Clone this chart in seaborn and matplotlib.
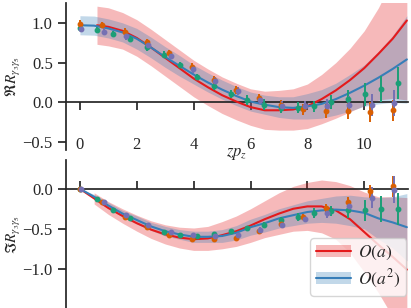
import matplotlib
matplotlib.use('Agg')
import matplotlib.pyplot as plt
import seaborn as sns
from matplotlib.patches import Patch
from matplotlib.lines import Line2D

# lattice points, x = z * p_z
x_a = [0.0, 0.785, 1.571, 2.356, 3.142, 3.927, 4.712, 5.498, 6.283, 7.069,
       7.854, 8.639, 9.425, 10.210, 10.996]
x_b = [0.0, 0.589, 1.178, 1.767, 2.356, 2.945, 3.534, 4.123, 4.712, 5.301,
       5.890, 6.480, 7.069, 7.658, 8.247, 8.836, 9.425, 10.014, 10.603, 11.192]

# real part
re_orange = [0.99, 0.97, 0.89, 0.76, 0.62, 0.45, 0.28, 0.16, 0.06, -0.03,
             -0.09, -0.11, -0.11, -0.12, -0.10]
re_orange_err = [0.04, 0.04, 0.04, 0.04, 0.04, 0.05, 0.05, 0.05, 0.05, 0.06,
                 0.07, 0.09, 0.10, 0.13, 0.13]
re_purple = [0.92, 0.89, 0.83, 0.72, 0.58, 0.42, 0.27, 0.14, 0.03, -0.04,
             -0.05, -0.05, -0.03, -0.03, -0.01]
re_purple_err = [0.04, 0.04, 0.04, 0.04, 0.04, 0.05, 0.05, 0.05, 0.05, 0.06,
                 0.07, 0.09, 0.11, 0.14, 0.16]
re_green = [0.94, 0.91, 0.86, 0.80, 0.69, 0.60, 0.47, 0.32, 0.20, 0.11,
            0.03, -0.03, -0.07, -0.07, -0.05, 0.00, 0.04, 0.10, 0.17, 0.24]
re_green_err = [0.04, 0.04, 0.04, 0.04, 0.04, 0.04, 0.04, 0.04, 0.05, 0.05,
                0.06, 0.07, 0.07, 0.07, 0.07, 0.09, 0.12, 0.14, 0.16, 0.20]

# imaginary part
im_orange = [0.0, -0.17, -0.35, -0.48, -0.58, -0.63, -0.63, -0.62, -0.53, -0.44,
             -0.35, -0.24, -0.16, -0.03, 0.03]
im_orange_err = [0.01, 0.02, 0.02, 0.02, 0.02, 0.02, 0.02, 0.03, 0.03, 0.03,
                 0.04, 0.05, 0.06, 0.08, 0.13]
im_purple = [0.0, -0.16, -0.33, -0.45, -0.54, -0.58, -0.59, -0.58, -0.51, -0.45,
             -0.38, -0.30, -0.22, -0.11, -0.01]
im_purple_err = [0.01, 0.02, 0.02, 0.02, 0.02, 0.02, 0.02, 0.03, 0.03, 0.04,
                 0.04, 0.06, 0.07, 0.13, 0.17]
im_green = [0.0, -0.13, -0.26, -0.37, -0.47, -0.54, -0.58, -0.59, -0.57, -0.53,
            -0.49, -0.45, -0.39, -0.35, -0.30, -0.28, -0.27, -0.27, -0.25, -0.25]
im_green_err = [0.01, 0.02, 0.02, 0.02, 0.02, 0.02, 0.03, 0.03, 0.03, 0.03,
                0.03, 0.03, 0.04, 0.05, 0.06, 0.06, 0.10, 0.13, 0.16, 0.20]

# fit curves
x_fit = [0.0, 0.5, 1.0, 1.5, 2.0, 2.5, 3.0, 3.5, 4.0, 4.5, 5.0, 5.5,
         6.0, 6.5, 7.0, 7.5, 8.0, 8.5, 9.0, 9.5, 10.0, 10.5, 11.0, 11.5]
x_fit_red = [0.6, 1.0, 1.5, 2.0, 2.5, 3.0, 3.5, 4.0, 4.5, 5.0, 5.5,
             6.0, 6.5, 7.0, 7.5, 8.0, 8.5, 9.0, 9.5, 10.0, 10.5, 11.0, 11.5]

re_blue = [0.97, 0.965, 0.93, 0.88, 0.80, 0.69, 0.57, 0.46, 0.35, 0.25, 0.16, 0.08,
           0.01, -0.03, -0.06, -0.07, -0.05, -0.02, 0.04, 0.12, 0.21, 0.31, 0.42, 0.54]
re_blue_err = [0.12, 0.12, 0.12, 0.12, 0.13, 0.13, 0.13, 0.13, 0.12, 0.12, 0.12, 0.12,
               0.12, 0.12, 0.13, 0.14, 0.16, 0.18, 0.20, 0.23, 0.26, 0.33, 0.42, 0.55]
re_red = [0.97, 0.95, 0.90, 0.81, 0.69, 0.56, 0.43, 0.30, 0.19, 0.09, 0.01,
          -0.06, -0.10, -0.10, -0.09, -0.05, 0.04, 0.15, 0.28, 0.43, 0.61, 0.80, 1.03]
re_red_err = [0.24, 0.24, 0.23, 0.23, 0.23, 0.23, 0.23, 0.23, 0.23, 0.23, 0.23,
              0.23, 0.24, 0.25, 0.26, 0.28, 0.31, 0.35, 0.40, 0.47, 0.58, 0.75, 1.00]

im_blue = [0.0, -0.10, -0.21, -0.31, -0.39, -0.47, -0.53, -0.57, -0.60, -0.60, -0.59, -0.55,
           -0.48, -0.43, -0.37, -0.33, -0.29, -0.27, -0.26, -0.27, -0.30, -0.37, -0.42, -0.48]
im_blue_err = [0.0, 0.03, 0.04, 0.04, 0.05, 0.05, 0.06, 0.06, 0.07, 0.07, 0.08, 0.09,
               0.10, 0.11, 0.12, 0.13, 0.14, 0.15, 0.17, 0.19, 0.20, 0.26, 0.32, 0.42]
im_red = [0.0, -0.12, -0.24, -0.34, -0.43, -0.51, -0.57, -0.61, -0.63, -0.62, -0.58, -0.53,
          -0.46, -0.38, -0.31, -0.25, -0.22, -0.22, -0.27, -0.38, -0.54, -0.70, -0.85, -1.01]
im_red_err = [0.0, 0.07, 0.08, 0.09, 0.10, 0.11, 0.12, 0.13, 0.14, 0.15, 0.17, 0.19,
              0.21, 0.23, 0.26, 0.28, 0.30, 0.33, 0.36, 0.42, 0.50, 0.60, 0.75, 0.90]

RED = '#e41a1c'
BLUE = '#377eb8'
GREEN, ORANGE, PURPLE = sns.color_palette('Dark2', 3)

sns.set_theme(style='ticks')
plt.rcParams['font.family'] = ['Liberation Serif', 'DejaVu Serif']
plt.rcParams['mathtext.fontset'] = 'stix'
plt.rcParams['axes.unicode_minus'] = True

fig = plt.figure(figsize=(4.11, 3.08), dpi=100)
ax1 = fig.add_axes([66 / 411, 1 - 150 / 308, 342 / 411, 147 / 308])
ax2 = fig.add_axes([66 / 411, 0.0, 342 / 411, 148 / 308])


def band(ax, x, y, err, color, start=0):
    lo = [v - e for v, e in zip(y, err)][start:]
    hi = [v + e for v, e in zip(y, err)][start:]
    ax.fill_between(x[start:], lo, hi, color=color, alpha=0.3, lw=0, zorder=1)


def points(ax, x, y, err, color, shift=0.0):
    xs = [v + shift for v in x]
    ax.errorbar(xs, y, yerr=err, fmt='o', ms=3.2, color=color, elinewidth=1.4,
                capsize=0, zorder=4)


# real part
band(ax1, x_fit_red, re_red, re_red_err, RED)
band(ax1, x_fit, re_blue, re_blue_err, BLUE)
sns.lineplot(x=x_fit_red, y=re_red, color=RED, lw=1.5, ax=ax1, zorder=3)
sns.lineplot(x=x_fit, y=re_blue, color=BLUE, lw=1.5, ax=ax1, zorder=3)
points(ax1, x_b, re_green, re_green_err, GREEN)
points(ax1, x_a, re_orange, re_orange_err, ORANGE)
points(ax1, x_a, re_purple, re_purple_err, PURPLE, shift=0.05)

# imaginary part
band(ax2, x_fit, im_red, im_red_err, RED, start=1)
band(ax2, x_fit, im_blue, im_blue_err, BLUE)
sns.lineplot(x=x_fit, y=im_red, color=RED, lw=1.5, ax=ax2, zorder=3)
sns.lineplot(x=x_fit, y=im_blue, color=BLUE, lw=1.5, ax=ax2, zorder=3)
points(ax2, x_b, im_green, im_green_err, GREEN)
points(ax2, x_a, im_orange, im_orange_err, ORANGE)
points(ax2, x_a, im_purple, im_purple_err, PURPLE, shift=0.05)

for ax in (ax1, ax2):
    ax.set_xlim(-0.49, 11.54)
    ax.spines['top'].set_visible(False)
    ax.spines['right'].set_visible(False)
    ax.spines['bottom'].set_position(('data', 0))
    ax.set_xticks([0, 2, 4, 6, 8, 10])
    ax.tick_params(labelsize=12)

ax1.set_ylim(-0.6, 1.25)
ax1.set_yticks([-0.5, 0.0, 0.5, 1.0])
ax1.tick_params(axis='x', pad=19)
ax1.set_ylabel(r'$\Re R_{\gamma_3\gamma_5}$', fontsize=11)
ax1.yaxis.set_label_coords(-0.125, 0.5)
ax1.set_xlabel(r'$zp_z$', fontsize=12)
ax1.xaxis.set_label_coords(0.5, 0.03)

ax2.set_ylim(-1.49, 0.36)
ax2.set_yticks([-1.0, -0.5, 0.0])
ax2.tick_params(axis='x', direction='in', labelbottom=False)
ax2.set_ylabel(r'$\Im R_{\gamma_3\gamma_5}$', fontsize=11)
ax2.yaxis.set_label_coords(-0.125, 0.5)

handles = [(Patch(facecolor=RED, alpha=0.3, lw=0), Line2D([], [], color=RED, lw=1.5)),
           (Patch(facecolor=BLUE, alpha=0.3, lw=0), Line2D([], [], color=BLUE, lw=1.5))]
ax2.legend(handles, [r'$O(a)$', r'$O(a^2)$'], loc='lower right',
           bbox_to_anchor=(1.0, 0.07), fontsize=12.5, borderaxespad=0.1,
           labelspacing=0.3, borderpad=0.35, handletextpad=0.4)

fig.savefig('out.png', dpi=100)
